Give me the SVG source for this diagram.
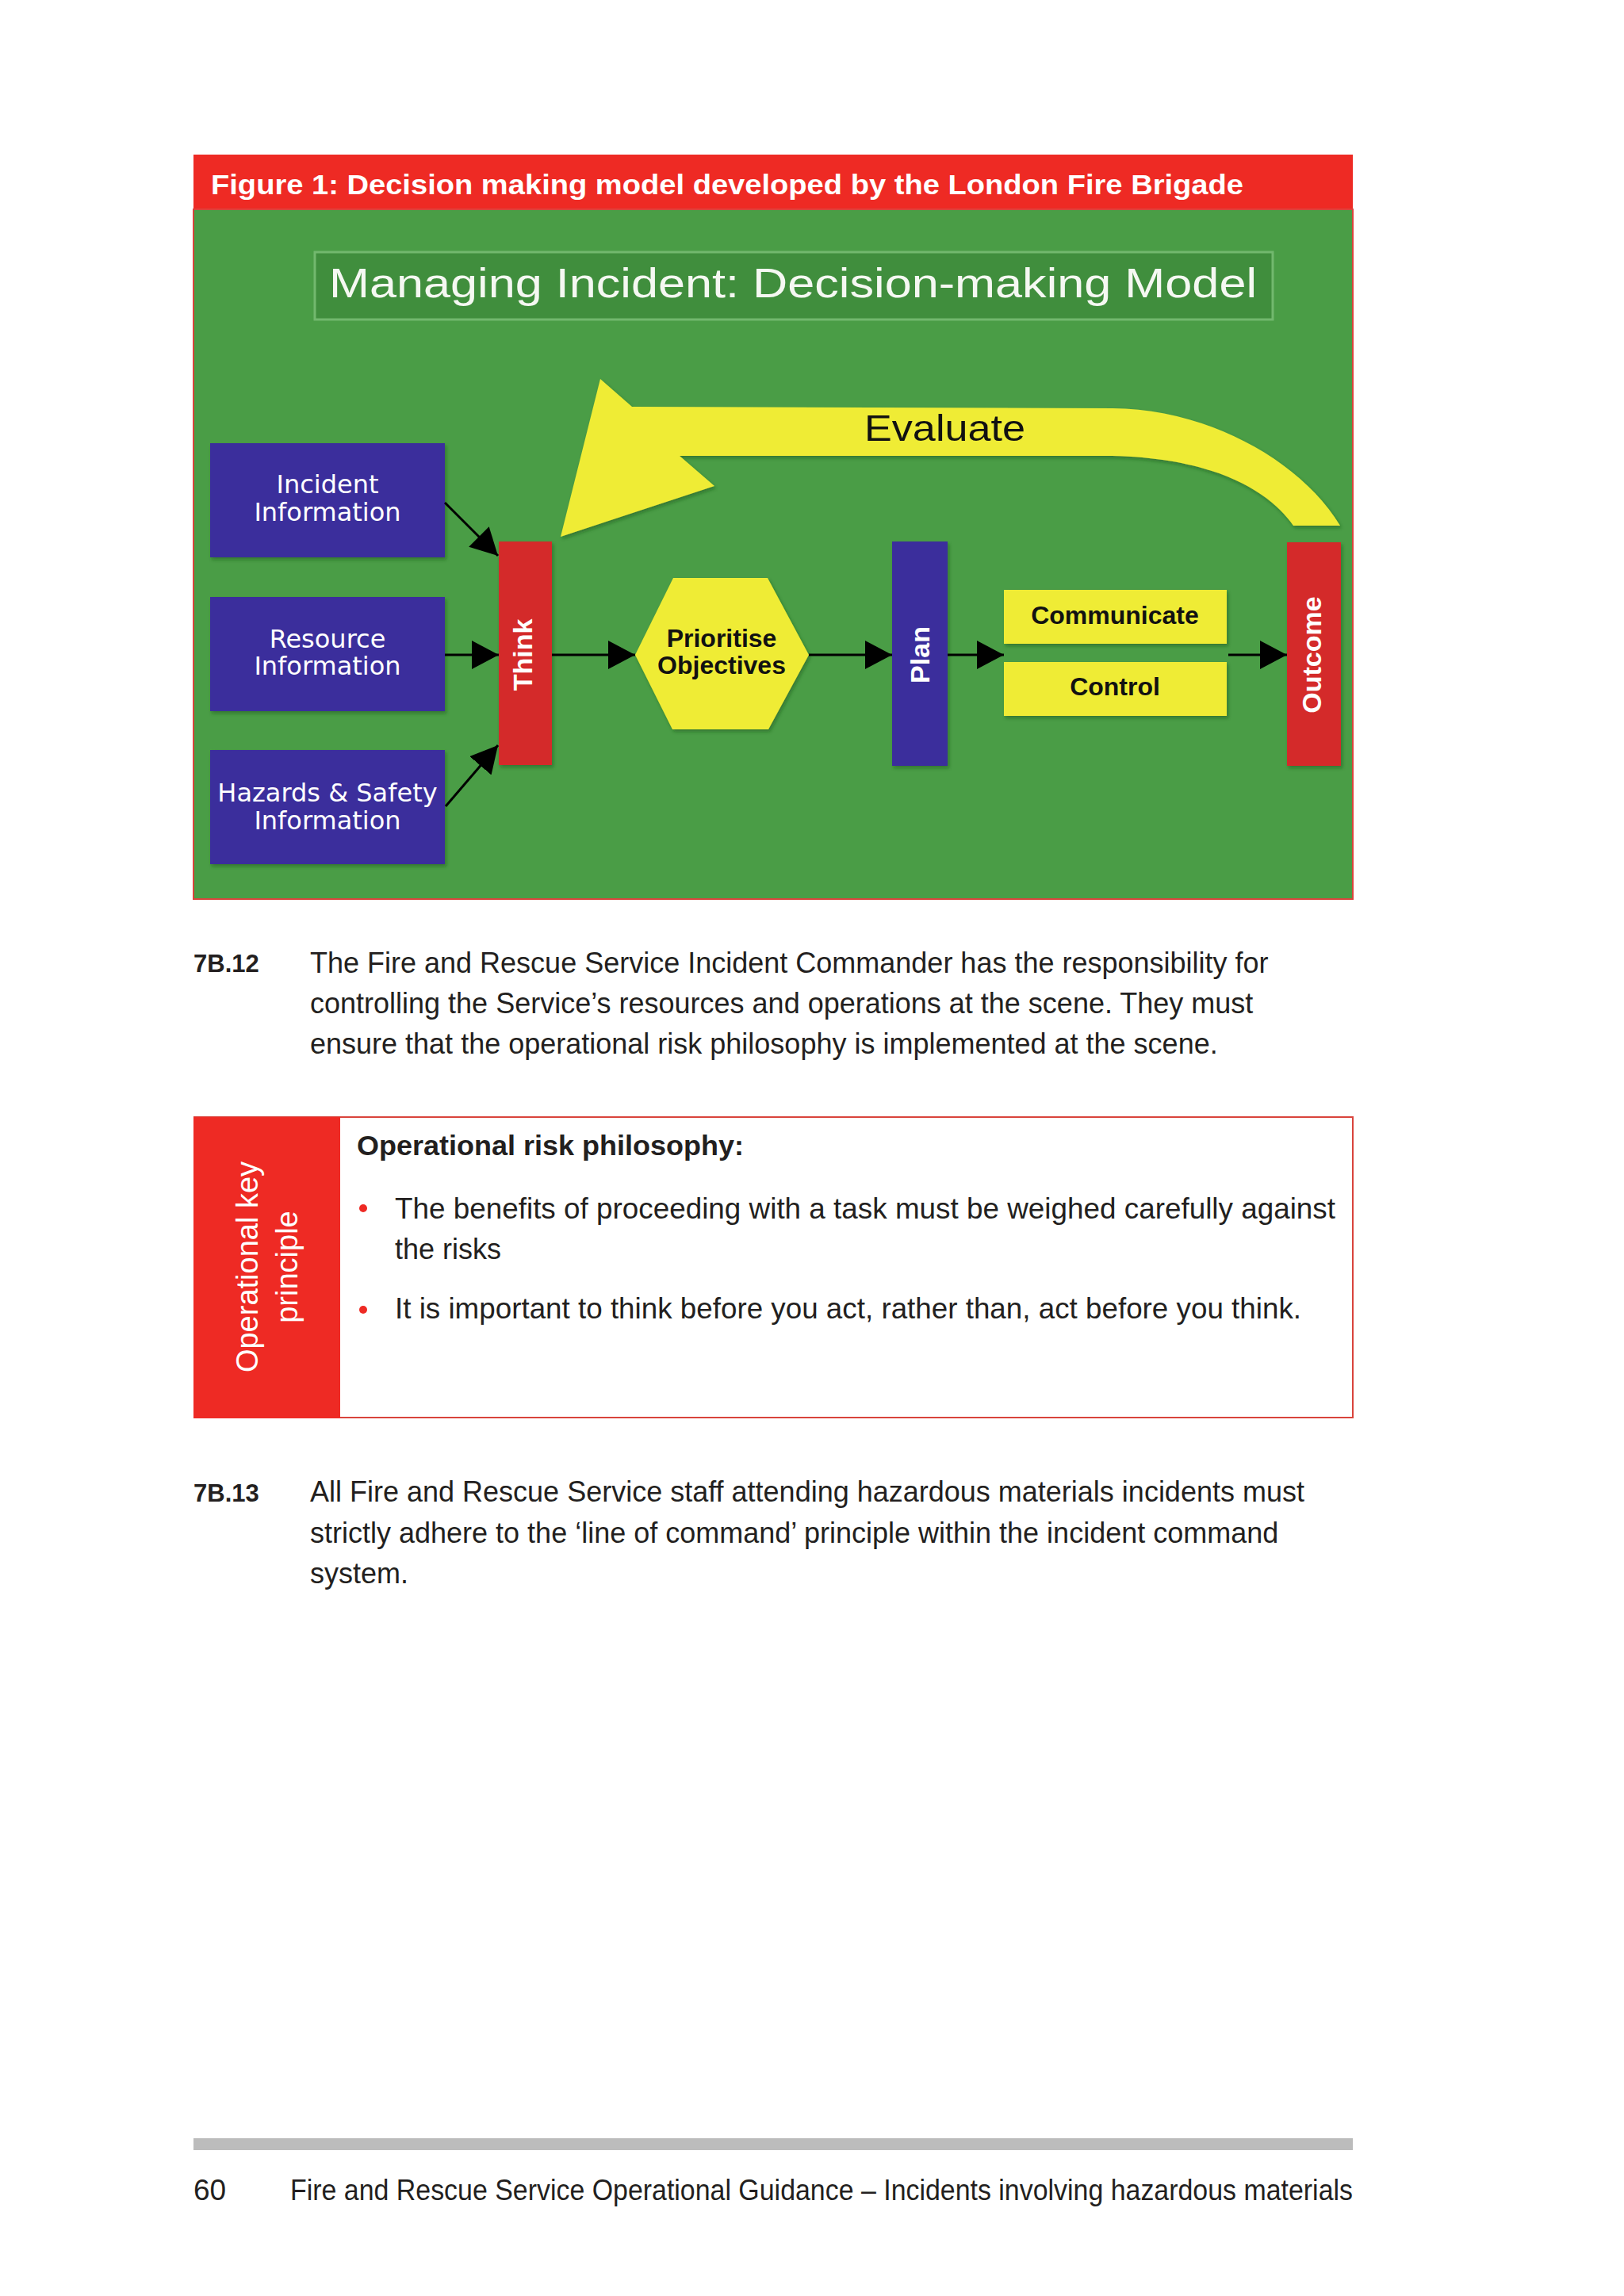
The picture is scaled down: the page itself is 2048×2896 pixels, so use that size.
<svg xmlns="http://www.w3.org/2000/svg" width="2048" height="2896" viewBox="0 0 2048 2896">
<style>
.body{font-family:"Liberation Sans",Arial,sans-serif;font-size:36px;fill:#231f20}
.num{font-family:"Liberation Sans",Arial,sans-serif;font-size:31px;font-weight:bold;fill:#231f20}
.info{font-family:"DejaVu Sans",Verdana,sans-serif;font-size:32px;fill:#ffffff;text-anchor:middle}
.bar{font-family:"Liberation Sans",Arial,sans-serif;font-size:34px;font-weight:bold;fill:#ffffff;text-anchor:middle}
.ylab{font-family:"Liberation Sans",Arial,sans-serif;font-size:32px;font-weight:bold;fill:#111;text-anchor:middle}
.conn{stroke:#000;stroke-width:3;fill:none;marker-end:url(#ah)}
.blue{fill:#3a2e9c}
.redbar{fill:#d42a2c}
.yel{fill:#efec36}
</style>
<defs>
<marker id="ah" markerWidth="34" markerHeight="36" refX="34" refY="18" orient="auto" markerUnits="userSpaceOnUse">
<path d="M0,0 L34,18 L0,36 Z" fill="#000"/>
</marker>
<filter id="sh" x="-10%" y="-10%" width="130%" height="130%">
<feDropShadow dx="2" dy="3" stdDeviation="2" flood-color="#1d4a1b" flood-opacity="0.45"/>
</filter>
</defs>
<rect x="0" y="0" width="2048" height="2896" fill="#ffffff"/>

<g id="figure-header">
<rect x="244" y="195" width="1462" height="69" fill="#ee2a24"/>
<text x="266" y="245" font-family="'Liberation Sans',Arial,sans-serif" font-size="35" font-weight="bold" fill="#ffffff" textLength="1302" lengthAdjust="spacingAndGlyphs">Figure 1: Decision making model developed by the London Fire Brigade</text>
</g>

<g id="figure-panel">
<rect x="244" y="264" width="1462" height="870" fill="#4a9d46" stroke="#d9443c" stroke-width="2"/>
</g>

<g id="title">
<rect x="397" y="318" width="1208" height="85" fill="#408e3d" stroke="#72b86e" stroke-width="3"/>
<text x="415" y="375" font-family="'Liberation Sans',Arial,sans-serif" font-size="52" fill="#f5f8f2" textLength="1170" lengthAdjust="spacingAndGlyphs">Managing Incident: Decision-making Model</text>
</g>

<g id="evaluate">
<path d="M757,478 L797,513 L1403,515 C1520,515 1640,580 1690,663 L1631,663 C1605,625 1540,578 1403,575 L857,575 L901,613 L707,677 Z" class="yel" filter="url(#sh)"/>
<text x="1090" y="556" font-family="'Liberation Sans',Arial,sans-serif" font-size="47" fill="#111" textLength="203" lengthAdjust="spacingAndGlyphs">Evaluate</text>
</g>

<g id="incident-information">
<rect x="265" y="559" width="296" height="144" class="blue" filter="url(#sh)"/>
<text x="413" y="622" class="info">Incident</text>
<text x="413" y="657" class="info">Information</text>
</g>

<g id="resource-information">
<rect x="265" y="753" width="296" height="144" class="blue" filter="url(#sh)"/>
<text x="413" y="817" class="info">Resource</text>
<text x="413" y="851" class="info">Information</text>
</g>

<g id="hazards-safety-information">
<rect x="265" y="946" width="296" height="144" class="blue" filter="url(#sh)"/>
<text x="413" y="1011" class="info">Hazards &amp; Safety</text>
<text x="413" y="1046" class="info">Information</text>
</g>

<g id="think">
<rect x="629" y="683" width="67" height="282" class="redbar" filter="url(#sh)"/>
<text class="bar" transform="translate(671,826) rotate(-90)">Think</text>
</g>

<g id="prioritise-objectives">
<polygon points="801,826 849,729 968,729 1020,826 969,920 848,920" class="yel" filter="url(#sh)"/>
<text x="910" y="816" class="ylab">Prioritise</text>
<text x="910" y="850" class="ylab">Objectives</text>
</g>

<g id="plan">
<rect x="1125" y="683" width="70" height="283" fill="#3a2e9c" filter="url(#sh)"/>
<text class="bar" transform="translate(1172,826) rotate(-90)">Plan</text>
</g>

<g id="communicate">
<rect x="1266" y="744" width="281" height="68" class="yel" filter="url(#sh)"/>
<text x="1406" y="787" class="ylab">Communicate</text>
</g>

<g id="control">
<rect x="1266" y="835" width="281" height="68" class="yel" filter="url(#sh)"/>
<text x="1406" y="877" class="ylab">Control</text>
</g>

<g id="outcome">
<rect x="1623" y="684" width="68" height="282" class="redbar" filter="url(#sh)"/>
<text class="bar" transform="translate(1666,826) rotate(-90)">Outcome</text>
</g>

<g id="connectors">
<path class="conn" d="M561,634 L628,701"/>
<path class="conn" d="M561,826 L629,826"/>
<path class="conn" d="M562,1017 L628,940"/>
<path class="conn" d="M696,826 L801,826"/>
<path class="conn" d="M1020,826 L1125,826"/>
<path class="conn" d="M1195,826 L1266,826"/>
<path class="conn" d="M1549,826 L1623,826"/>
</g>

<g id="para-7B12">
<text x="244" y="1226" class="num">7B.12</text>
<text x="391" y="1227" class="body">The Fire and Rescue Service Incident Commander has the responsibility for</text>
<text x="391" y="1278" class="body">controlling the Service’s resources and operations at the scene. They must</text>
<text x="391" y="1329" class="body">ensure that the operational risk philosophy is implemented at the scene.</text>
</g>

<g id="key-principle">
<rect x="245" y="1409" width="1461" height="379" fill="#ffffff" stroke="#d9443c" stroke-width="2"/>
<rect x="244" y="1409" width="185" height="380" fill="#ee2a24"/>
<text transform="translate(325,1598) rotate(-90)" font-family="'Liberation Sans',Arial,sans-serif" font-size="38" fill="#ffffff" text-anchor="middle">Operational key</text>
<text transform="translate(375,1598) rotate(-90)" font-family="'Liberation Sans',Arial,sans-serif" font-size="38" fill="#ffffff" text-anchor="middle">principle</text>
<text x="450" y="1457" font-family="'Liberation Sans',Arial,sans-serif" font-size="35" font-weight="bold" fill="#231f20" textLength="488" lengthAdjust="spacingAndGlyphs">Operational risk philosophy:</text>
<circle cx="458" cy="1524" r="5" fill="#ee2a24"/>
<text x="498" y="1537" class="body" textLength="1186" lengthAdjust="spacingAndGlyphs">The benefits of proceeding with a task must be weighed carefully against</text>
<text x="498" y="1588" class="body">the risks</text>
<circle cx="458" cy="1652" r="5" fill="#ee2a24"/>
<text x="498" y="1663" class="body" textLength="1143" lengthAdjust="spacingAndGlyphs">It is important to think before you act, rather than, act before you think.</text>
</g>

<g id="para-7B13">
<text x="244" y="1894" class="num">7B.13</text>
<text x="391" y="1894" class="body">All Fire and Rescue Service staff attending hazardous materials incidents must</text>
<text x="391" y="1946" class="body">strictly adhere to the ‘line of command’ principle within the incident command</text>
<text x="391" y="1997" class="body">system.</text>
</g>

<g id="footer">
<rect x="244" y="2697" width="1462" height="15" fill="#bcbcbc"/>
<text x="244" y="2775" font-family="'Liberation Sans',Arial,sans-serif" font-size="37" fill="#231f20">60</text>
<text x="366" y="2775" font-family="'Liberation Sans',Arial,sans-serif" font-size="36" fill="#231f20" textLength="1340" lengthAdjust="spacingAndGlyphs">Fire and Rescue Service Operational Guidance – Incidents involving hazardous materials</text>
</g>
</svg>
